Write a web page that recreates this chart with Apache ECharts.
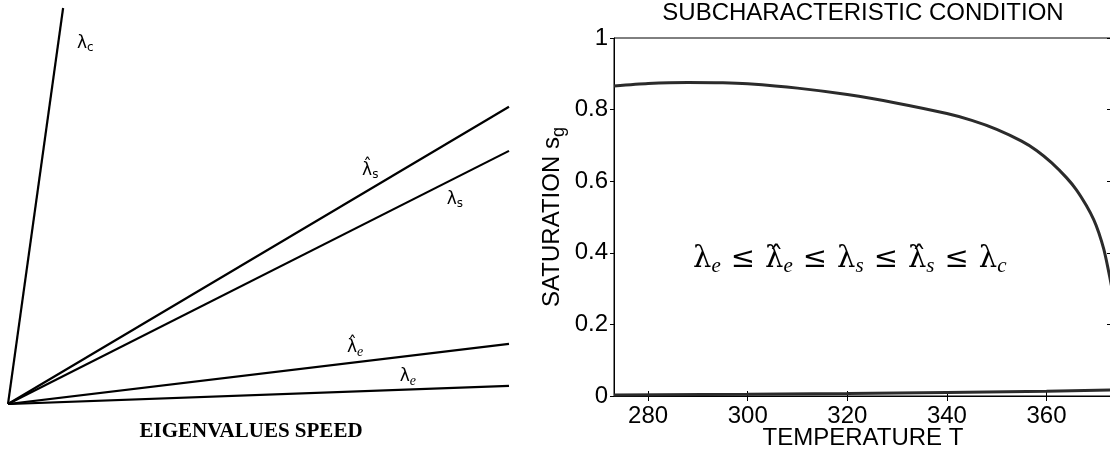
<!DOCTYPE html>
<html><head><meta charset="utf-8">
<script src="https://cdn.jsdelivr.net/npm/echarts@6/dist/echarts.min.js"></script>
<style>html,body{margin:0;padding:0;background:#fff}#c{width:1110px;height:452px}</style>
</head><body><div id="c"></div>
<script>
// ---- Left panel: eigenvalue speeds (rays from the origin) ----
const eigenLabels = ['{l|λ}{ss|c}', '{l|λ̂}{ss|s}', '{l|λ}{ss|s}', '{l|λ̂}{si|e}', '{l|λ}{si|e}'];
const eigenEndX = [11, 100, 100, 100, 100];
const eigenEndY = [79, 59.3, 50.5, 12.0, 3.6];

// ---- Right panel: subcharacteristic condition ----
const temperature = [273.15, 280, 288, 295, 300, 310, 320, 330, 340, 345, 350, 355, 358, 361, 364, 366, 368, 369.5, 370.5, 371.5, 372.3, 373.15];
const satUpper    = [0.866, 0.873, 0.876, 0.875, 0.872, 0.860, 0.842, 0.818, 0.789, 0.770, 0.745, 0.712, 0.686, 0.652, 0.610, 0.576, 0.532, 0.492, 0.456, 0.410, 0.360, 0.300];
const temperatureLow = [273.15, 300, 320, 340, 360, 373.15];
const satLower       = [0.003, 0.005, 0.007, 0.010, 0.013, 0.017];
const xTickValues = [280, 300, 320, 340, 360];
const annotationText = '{l|λ}{si|e}{o|≤}{l|λ̂}{si|e}{o|≤}{l|λ}{si|s}{o|≤}{l|λ̂}{si|s}{o|≤}{l|λ}{si|c}';
const annotationAt = [320.5, 0.38];

// label placement along each ray (layout only)
const rayLabelLayout = [
  {t: 0.911, dx: 27, dy: 0},
  {t: 0.723, dx: 0, dy: -19},
  {t: 0.892, dx: 0, dy: 21},
  {t: 0.693, dx: 0, dy: -15},
  {t: 0.798, dx: 0, dy: -13}
];

const sans = 'Liberation Sans, Arial, Helvetica, sans-serif';
const serif = 'Liberation Serif, DejaVu Serif, serif';

const smallRich = {
  l: {fontFamily: 'DejaVu Sans', fontSize: 17, color: '#000'},
  ss: {fontFamily: 'DejaVu Sans', fontSize: 12, color: '#000', padding: [10, 0, 0, 0]},
  si: {fontFamily: serif, fontStyle: 'italic', fontSize: 14, color: '#000', padding: [10, 0, 0, 0]}
};

const raySeries = eigenEndX.map((ex, i) => {
  const L = rayLabelLayout[i];
  return {
    type: 'line', xAxisIndex: 2, yAxisIndex: 2,
    data: [[0, 0], [ex, eigenEndY[i]]],
    showSymbol: false, silent: true,
    lineStyle: {color: '#000', width: 2.2},
    markPoint: {
      symbol: 'circle', symbolSize: 1, itemStyle: {color: 'rgba(0,0,0,0)'},
      data: [{coord: [ex * L.t, eigenEndY[i] * L.t]}],
      label: {show: true, position: 'inside', offset: [L.dx, L.dy], formatter: eigenLabels[i], rich: smallRich}
    }
  };
});

const chart = echarts.init(document.getElementById('c'));
chart.setOption({
  animation: false,
  backgroundColor: '#fff',
  title: [
    {text: 'SUBCHARACTERISTIC CONDITION', left: 863, top: 1, textAlign: 'center', padding: 0,
     textStyle: {fontFamily: sans, fontSize: 24, fontWeight: 'normal', color: '#000'}},
    {text: 'EIGENVALUES SPEED', left: 251, top: 421, textAlign: 'center', padding: 0,
     textStyle: {fontFamily: serif, fontSize: 21, fontWeight: 'bold', color: '#000'}}
  ],
  grid: [
    {left: 614, top: 38, right: -2, bottom: 56, outerBoundsMode: 'none', containLabel: false,
     show: true, borderColor: '#000', borderWidth: 1, backgroundColor: 'transparent'},
    {left: 8, top: 3, width: 501, height: 401, outerBoundsMode: 'none', containLabel: false}
  ],
  xAxis: [
    {type: 'value', gridIndex: 0, position: 'bottom', min: 273.15, max: 373.15,
     axisLine: {show: true, lineStyle: {color: '#000', width: 1}},
     axisTick: {show: true, inside: true, length: 5, customValues: xTickValues, lineStyle: {color: '#000'}},
     axisLabel: {show: true, customValues: xTickValues, fontFamily: sans, fontSize: 24, color: '#000', margin: 8},
     splitLine: {show: false},
     name: 'TEMPERATURE T', nameLocation: 'middle', nameGap: 30, nameMoveOverlap: false,
     nameTextStyle: {fontFamily: sans, fontSize: 24, color: '#000'}},
    {type: 'value', gridIndex: 0, position: 'top', min: 273.15, max: 373.15,
     axisLine: {show: true, lineStyle: {color: '#000', width: 1}},
     axisTick: {show: true, inside: true, length: 5, customValues: xTickValues, lineStyle: {color: '#000'}},
     axisLabel: {show: false}, splitLine: {show: false}},
    {type: 'value', gridIndex: 1, min: 0, max: 100, show: false}
  ],
  yAxis: [
    {type: 'value', gridIndex: 0, position: 'left', min: 0, max: 1, interval: 0.2,
     axisLine: {show: true, lineStyle: {color: '#000', width: 1}},
     axisTick: {show: true, inside: false, length: 4, lineStyle: {color: '#000'}},
     axisLabel: {fontFamily: sans, fontSize: 24, color: '#000', margin: 6},
     splitLine: {show: false},
     name: '{a|SATURATION s}{b|g}', nameLocation: 'middle', nameGap: 46, nameMoveOverlap: false,
     nameTextStyle: {rich: {
       a: {fontFamily: sans, fontSize: 24, color: '#000'},
       b: {fontFamily: sans, fontSize: 18, color: '#000', padding: [14, 0, 0, 0]}
     }}},
    {type: 'value', gridIndex: 0, position: 'right', min: 0, max: 1, interval: 0.2,
     axisLine: {show: true, lineStyle: {color: '#000', width: 1}},
     axisTick: {show: true, inside: true, length: 5, lineStyle: {color: '#000'}},
     axisLabel: {show: false}, splitLine: {show: false}},
    {type: 'value', gridIndex: 1, min: 0, max: 80, show: false}
  ],
  series: [
    {type: 'line', xAxisIndex: 0, yAxisIndex: 0, data: temperature.map((t, i) => [t, satUpper[i]]),
     showSymbol: false, smooth: 0.25, silent: true,
     lineStyle: {color: '#2b2b2b', width: 3}},
    {type: 'line', xAxisIndex: 0, yAxisIndex: 0, data: temperatureLow.map((t, i) => [t, satLower[i]]),
     showSymbol: false, silent: true,
     lineStyle: {color: '#2b2b2b', width: 3}},
    {type: 'scatter', xAxisIndex: 0, yAxisIndex: 0, data: [annotationAt], symbolSize: 0, silent: true,
     itemStyle: {opacity: 1, color: '#000'},
     label: {show: true, position: 'inside', color: '#000', opacity: 1, formatter: annotationText, rich: {
       l: {fontFamily: 'DejaVu Serif', fontSize: 29, color: '#000'},
       o: {fontFamily: 'DejaVu Serif', fontSize: 29, color: '#000', padding: [0, 10, 0, 10]},
       si: {fontFamily: serif, fontStyle: 'italic', fontSize: 21, color: '#000', padding: [14, 0, 0, 0]}
     }}}
  ].concat(raySeries)
});
</script></body></html>
